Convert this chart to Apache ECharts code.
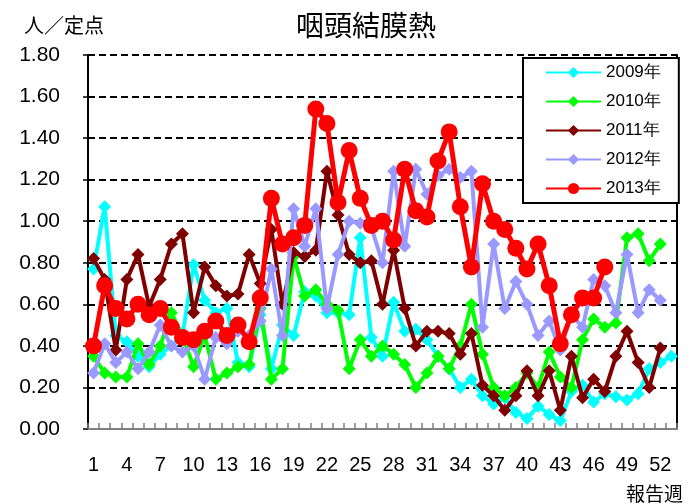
<!DOCTYPE html>
<html><head><meta charset="utf-8">
<script src="https://cdn.jsdelivr.net/npm/echarts@6/dist/echarts.min.js"></script>
<style>html,body{margin:0;padding:0;background:#fff}#c{width:690px;height:504px}</style>
</head><body><div id="c"></div>
<script>
var weeks = ['1','2','3','4','5','6','7','8','9','10','11','12','13','14','15','16','17','18','19','20','21','22','23','24','25','26','27','28','29','30','31','32','33','34','35','36','37','38','39','40','41','42','43','44','45','46','47','48','49','50','51','52','53'];
var yTicks = [0, 0.2, 0.4, 0.6, 0.8, 1.0, 1.2, 1.4, 1.6, 1.8];
var seriesNames = ['2009年','2010年','2011年','2012年','2013年'];
var y2009 = [0.77,1.07,0.45,0.42,0.35,0.30,0.36,0.40,0.45,0.79,0.62,0.56,0.58,0.32,0.30,0.55,0.29,0.50,0.45,0.66,0.64,0.56,0.56,0.55,0.92,0.44,0.35,0.61,0.47,0.48,0.43,0.35,0.29,0.20,0.24,0.16,0.12,0.15,0.08,0.05,0.11,0.07,0.04,0.18,0.21,0.13,0.17,0.155,0.14,0.17,0.29,0.32,0.35];
var y2010 = [0.35,0.27,0.25,0.25,0.41,0.31,0.40,0.56,0.45,0.30,0.45,0.24,0.27,0.30,0.31,0.58,0.24,0.29,0.83,0.64,0.67,0.60,0.57,0.29,0.43,0.35,0.40,0.36,0.31,0.20,0.27,0.35,0.29,0.40,0.60,0.36,0.20,0.16,0.20,0.27,0.20,0.37,0.25,0.20,0.43,0.53,0.49,0.51,0.92,0.94,0.81,0.89];
var y2011 = [0.82,0.72,0.38,0.72,0.84,0.59,0.72,0.89,0.94,0.56,0.78,0.69,0.64,0.65,0.84,0.70,0.96,0.60,0.85,0.83,0.86,1.24,1.03,0.84,0.80,0.81,0.60,0.86,0.58,0.40,0.47,0.47,0.46,0.36,0.46,0.21,0.16,0.09,0.16,0.28,0.16,0.28,0.09,0.35,0.15,0.24,0.18,0.35,0.47,0.32,0.20,0.39];
var y2012 = [0.27,0.41,0.32,0.37,0.29,0.37,0.50,0.40,0.37,0.40,0.24,0.44,0.41,0.47,0.45,0.52,0.77,0.45,1.06,0.88,1.06,0.58,0.84,1.00,0.99,0.97,0.80,1.24,0.88,1.25,1.13,1.22,1.25,1.21,1.24,0.49,0.89,0.58,0.71,0.60,0.45,0.52,0.38,0.55,0.49,0.72,0.69,0.56,0.84,0.56,0.67,0.62];
var y2013 = [0.40,0.69,0.58,0.53,0.60,0.55,0.58,0.49,0.44,0.43,0.47,0.52,0.45,0.50,0.42,0.63,1.11,0.89,0.92,0.98,1.54,1.47,1.09,1.34,1.11,0.98,1.00,0.91,1.25,1.05,1.02,1.29,1.43,1.07,0.78,1.18,1.00,0.96,0.87,0.77,0.89,0.69,0.41,0.55,0.63,0.63,0.78];

var colors = ['#00FFFF','#00FF00','#800000','#9999FF','#FF0000'];
var dataSets = [y2009, y2010, y2011, y2012, y2013];
var font = '"Liberation Sans", Arial, sans-serif';
var cjk = '"Noto Sans CJK JP", sans-serif';

var series = seriesNames.map(function (n, i) {
  var last = i === 4;
  return {
    name: n, type: 'line', data: dataSets[i],
    symbol: last ? 'circle' : 'diamond',
    symbolSize: last ? 17 : 13,
    showAllSymbol: true,
    lineStyle: { color: colors[i], width: last ? 5 : 4 },
    itemStyle: { color: colors[i] },
    z: 2 + i, animation: false
  };
});

var chart = echarts.init(document.getElementById('c'));
chart.setOption({
  animation: false,
  grid: { left: 88, right: 13, top: 55, bottom: 75 },
  title: {
    text: '咽頭結膜熱', left: 291, top: 6,
    textStyle: { fontFamily: cjk, fontSize: 28, fontWeight: 'normal', color: '#000' }
  },
  graphic: [
    { type: 'text', left: 24, top: 15, style: { text: '人／定点', font: '20px ' + cjk, fill: '#000' } },
    { type: 'text', left: 626, top: 484, style: { text: '報告週', font: '19px ' + cjk, fill: '#000' } }
  ],
  legend: {
    data: seriesNames, orient: 'vertical', left: 523, top: 58,
    backgroundColor: '#fff', borderColor: '#000', borderWidth: 2,
    padding: [6, 18, 6, 22], itemGap: 12, itemWidth: 55, itemHeight: 14,
    textStyle: { fontFamily: font, fontSize: 17, color: '#000', lineHeight: 17 }
  },
  xAxis: {
    type: 'category', data: weeks, boundaryGap: true,
    axisLine: { lineStyle: { color: '#808080', width: 2 } },
    axisTick: { show: true, inside: true, interval: 0, length: 6, lineStyle: { color: '#808080', width: 1.5 } },
    axisLabel: { interval: 2, margin: 26, fontFamily: font, fontSize: 20, color: '#000' },
    splitLine: { show: false }
  },
  yAxis: [{
    type: 'value', min: 0, max: 1.8, interval: 0.2,
    axisLine: { show: true, lineStyle: { color: '#000', width: 2 } },
    axisTick: { show: true, length: 5, lineStyle: { color: '#000', width: 1.5 } },
    axisLabel: { margin: 28, fontFamily: font, fontSize: 21, color: '#000', formatter: function (v) { return v.toFixed(2); } },
    splitLine: { show: true, lineStyle: { color: '#000', width: 2, type: [7, 4] } }
  }, {
    type: 'value', min: 0, max: 1.8, interval: 0.2, position: 'right',
    axisLine: { show: true, lineStyle: { color: '#000', width: 2 } },
    axisTick: { show: false }, axisLabel: { show: false }, splitLine: { show: false }
  }],
  series: series
});
</script></body></html>
